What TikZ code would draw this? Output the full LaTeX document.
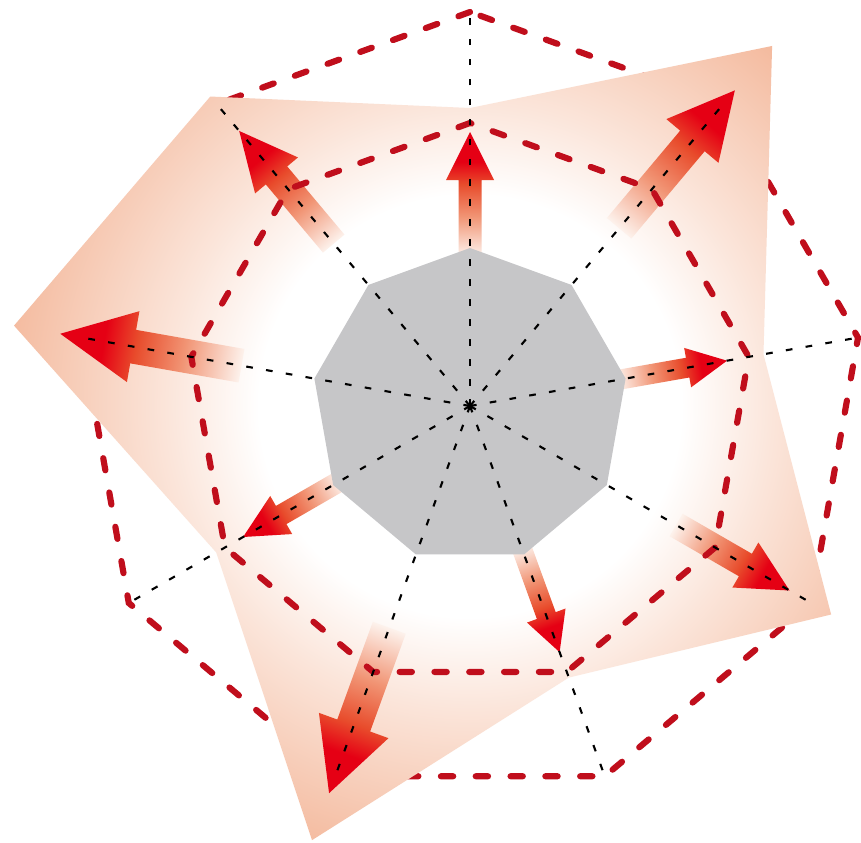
\documentclass[tikz,border=0pt]{standalone}
\definecolor{dred}{RGB}{192,14,28}
\definecolor{gnon}{RGB}{198,198,200}
\definecolor{salm}{RGB}{244,186,158}
\definecolor{salmmid}{RGB}{251,229,218}
\definecolor{arrtail}{RGB}{253,242,236}
\definecolor{arrmid}{RGB}{241,148,116}
\definecolor{arrorange}{RGB}{232,76,44}
\definecolor{arrred}{RGB}{229,0,20}
\pgfdeclareradialshading{datash}{\pgfpoint{0bp}{0bp}}{color(0bp)=(white); color(11bp)=(white); color(15.8bp)=(salmmid); color(24.5bp)=(salm); color(50bp)=(salm)}
\pgfdeclarehorizontalshading{arrsh}{100bp}{color(0bp)=(arrtail); color(25bp)=(arrtail); color(41bp)=(arrmid); color(54bp)=(arrorange); color(63bp)=(arrred); color(100bp)=(arrred)}
\newcommand{\radarrow}[6]{%
  \begin{scope}[transform canvas={rotate=#1}]
    \shade[shading=arrsh] (#2,{-#6/2}) -- ({#3-#4},{-#6/2}) -- ({#3-#4},{-#5/2}) -- (#3,0) -- ({#3-#4},{#5/2}) -- ({#3-#4},{#6/2}) -- (#2,{#6/2}) -- cycle;
  \end{scope}}
\tikzset{
  reddash/.style={draw=dred, line width=1.75pt, line cap=round, dash pattern=on 3.5pt off 6.4pt},
  spoke/.style={draw=black, line width=0.6pt, dash pattern=on 1.9pt off 3.8pt},
}
\begin{document}
\begin{tikzpicture}[x=0.01cm,y=0.01cm]
\useasboundingbox[fill=white] (-470,-436) rectangle (391,406);
% outer grid nonagon
\draw[reddash] (90:394) -- (130:394) -- (170:394) -- (210:394) -- (250:394) -- (290:394) -- (330:394) -- (370:394) -- (410:394) -- cycle;
% data polygon with radial shading
\begin{scope}
  \clip (90:298) -- (50:470) -- (10:298) -- (-30:417) -- (-70:289) -- (-110:462) -- (-150:293) -- (170:463) -- (130:404) -- cycle;
  \shade[shading=datash] (0,0) circle (480);
\end{scope}
% arrows
\radarrow{90}{150}{274}{48}{48}{23}
\radarrow{50}{232}{412}{66}{68}{32}
\radarrow{10}{150}{261}{40}{40}{20}
\radarrow{-30}{238}{369}{51}{52}{26}
\radarrow{-70}{150}{262}{39}{41}{20}
\radarrow{-110}{236}{412}{72}{74}{35}
\radarrow{-150}{150}{262}{44}{44}{21}
\radarrow{170}{232}{416}{74}{72}{34}
\radarrow{130}{212}{359}{58}{56}{28}
% central grey nonagon
\fill[gnon] (90:158) -- (130:158) -- (170:158) -- (210:158) -- (250:158) -- (290:158) -- (330:158) -- (370:158) -- (410:158) -- cycle;
% inner grid nonagon
\draw[reddash] (90:283) -- (130:283) -- (170:283) -- (210:283) -- (250:283) -- (290:283) -- (330:283) -- (370:283) -- (410:283) -- cycle;
% spokes
\foreach \a in {90,130,170,210,250,290,330,370,410} {
  \draw[spoke] (0,0) -- (\a:396);
}
\end{tikzpicture}
\end{document}
